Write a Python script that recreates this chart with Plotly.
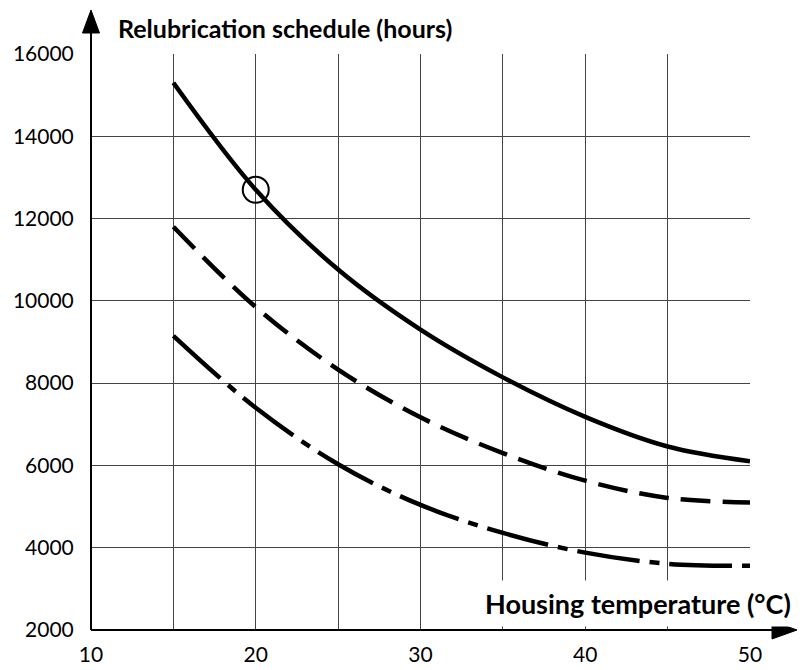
import plotly.graph_objects as go

# Housing temperature (°C) sampled every 5 degrees
temperature = [15, 20, 25, 30, 35, 40, 45, 50]

# Relubrication interval (hours) for the three curves
interval_solid = [15300, 12700, 10760, 9300, 8140, 7180, 6460, 6100]
interval_dashed = [11800, 9850, 8330, 7170, 6300, 5630, 5210, 5100]
interval_dashdot = [9150, 7400, 6030, 5040, 4360, 3880, 3610, 3560]

# Highlighted reading on the solid curve
marked_temp = 20
marked_hours = interval_solid[temperature.index(marked_temp)]

x_tickvals = [10, 15, 20, 25, 30, 35, 40, 45, 50]
x_ticktext = ["10", "", "20", "", "30", "", "40", "", "50"]
y_tickvals = [2000, 4000, 6000, 8000, 10000, 12000, 14000, 16000]
y_ticktext = ["2000", "4000", "6000", "8000", "10000", "12000", "14000", "16000"]

FONT = "Lato"
GRID = "#444444"

fig = go.Figure()

fig.add_trace(go.Scatter(
    x=temperature, y=interval_solid, mode="lines",
    line=dict(color="black", width=4.5, shape="spline", smoothing=1.0),
    hoverinfo="skip", showlegend=False,
))
fig.add_trace(go.Scatter(
    x=temperature, y=interval_dashed, mode="lines",
    line=dict(color="black", width=4.5, shape="spline", smoothing=1.0,
              dash="30px,12px"),
    hoverinfo="skip", showlegend=False,
))
fig.add_trace(go.Scatter(
    x=temperature, y=interval_dashdot, mode="lines",
    line=dict(color="black", width=4.5, shape="spline", smoothing=1.0,
              dash="63px,10px,10px,10px"),
    hoverinfo="skip", showlegend=False,
))
fig.add_trace(go.Scatter(
    x=[marked_temp], y=[marked_hours], mode="markers",
    marker=dict(symbol="circle-open", size=26, color="black",
                line=dict(color="black", width=2)),
    hoverinfo="skip", showlegend=False,
))

W, H = 805, 670
L, R, T, B = 91, 55, 54, 40
pw, ph = W - L - R, H - T - B


def px_x(p):
    return (p - L) / pw


def px_y(p):
    return (H - B - p) / ph


shapes = [
    # vertical axis with arrowhead
    dict(type="line", xref="paper", yref="paper", x0=0, y0=0, x1=0, y1=px_y(30),
         line=dict(color="black", width=2)),
    dict(type="path", xref="paper", yref="paper",
         path=f"M {px_x(L - 8.5)},{px_y(33)} L {px_x(L + 8.5)},{px_y(33)} "
              f"L {px_x(L)},{px_y(10)} Z",
         fillcolor="black", line=dict(color="black", width=1)),
    # horizontal axis with arrowhead
    dict(type="line", xref="paper", yref="paper", x0=0, y0=0, x1=px_x(775), y1=0,
         line=dict(color="black", width=2)),
    dict(type="path", xref="paper", yref="paper",
         path=f"M {px_x(772)},{px_y(H - B - 9)} L {px_x(772)},{px_y(H - B + 9)} "
              f"L {px_x(797)},{0} Z",
         fillcolor="black", line=dict(color="black", width=1)),
]

annotations = [
    dict(text="<b>Relubrication schedule (hours)</b>", xref="paper", yref="paper",
         x=px_x(116), y=px_y(28), xanchor="left", yanchor="middle",
         showarrow=False, font=dict(family=FONT, size=25, color="black")),
    dict(text="<b>Housing temperature (°C)</b>", xref="paper", yref="paper",
         x=px_x(798), y=px_y(603), xanchor="right", yanchor="middle",
         showarrow=False, bgcolor="white", borderpad=6,
         font=dict(family=FONT, size=27, color="black")),
]

fig.update_layout(
    width=W, height=H,
    margin=dict(l=L, r=R, t=T, b=B, autoexpand=False),
    paper_bgcolor="white", plot_bgcolor="white",
    font=dict(family=FONT, size=21, color="black"),
    shapes=shapes, annotations=annotations,
)
fig.update_xaxes(
    range=[10, 50], tickvals=x_tickvals, ticktext=x_ticktext,
    showgrid=True, gridcolor=GRID, gridwidth=1,
    showline=False, zeroline=False, automargin=False,
    ticks="outside", ticklen=6, tickcolor="rgba(0,0,0,0)",
)
fig.update_yaxes(
    range=[2000, 16000], tickvals=y_tickvals, ticktext=y_ticktext,
    showgrid=True, gridcolor=GRID, gridwidth=1,
    showline=False, zeroline=False, automargin=False,
    ticks="outside", ticklen=12, tickcolor="rgba(0,0,0,0)",
)

fig.write_html("out.html")
